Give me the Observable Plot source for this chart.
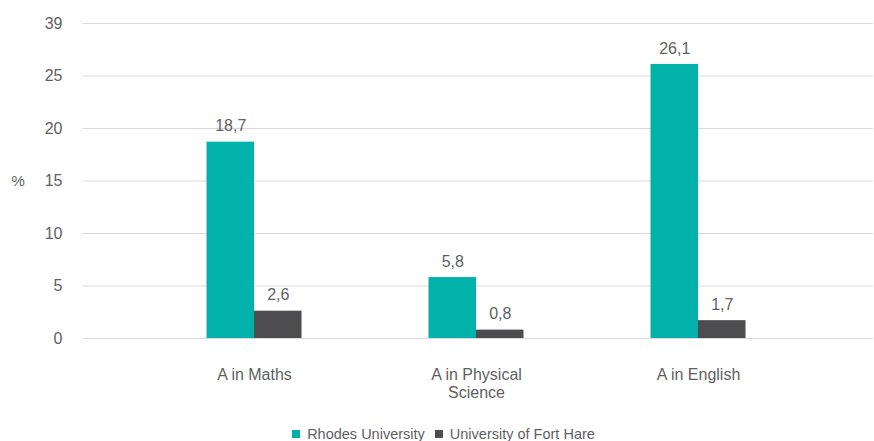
<!DOCTYPE html>
<html>
<head>
<meta charset="utf-8">
<script src="https://cdn.jsdelivr.net/npm/d3@7"></script>
<script src="https://cdn.jsdelivr.net/npm/@observablehq/plot@0.6"></script>
<style>
  body { margin: 0; background: #fff; font-family: "Liberation Sans", Arial, sans-serif; }
  #chart { width: 874px; }
  .legend { display: flex; justify-content: center; gap: 10px; font-size: 14.5px; color: #5f5f5f; line-height: 18px; margin-top: 0; padding-left: 13px; }
  .legend span.item { display: inline-flex; align-items: center; }
  .legend .sw { width: 8px; height: 8px; margin-right: 7px; display: inline-block; }
</style>
</head>
<body>
<div id="chart"></div>
<script>
// Share of learners with an A, by subject
const categories = ["A in Maths", "A in Physical Science", "A in English"];
const categoryLabels = ["A in Maths", "A in Physical\nScience", "A in English"];
const seriesNames = ["Rhodes University", "University of Fort Hare"];
const rhodes = [18.7, 5.8, 26.1];
const fortHare = [2.6, 0.8, 1.7];
const seriesColors = ["#00b2a9", "#4d4d4f"];
const yTickValues = [0, 5, 10, 15, 20, 25, 30];
const yTickLabels = ["0", "5", "10", "15", "20", "25", "39"];

const rows = [];
categories.forEach((c, i) => {
  rows.push({category: c, series: seriesNames[0], value: rhodes[i]});
  rows.push({category: c, series: seriesNames[1], value: fortHare[i]});
});

const comma = d3.formatLocale({decimal: ",", thousands: " ", grouping: [3], currency: ["", ""]}).format(".1f");
const textColor = "#5f5f5f";
const barW = 47.5;
const half = 111;

const plot = Plot.plot({
  width: 874,
  height: 425,
  marginTop: 23,
  marginBottom: 87,
  marginLeft: 83,
  marginRight: 1,
  style: {fontFamily: "'Liberation Sans', Arial, sans-serif", fontSize: "16px", color: textColor, background: "#fff"},
  x: {domain: categories, range: [143, 809], paddingInner: 0, paddingOuter: 0},
  y: {domain: [0, 30]},
  color: {domain: seriesNames, range: seriesColors},
  marks: [
    Plot.gridY(yTickValues, {stroke: "#d9d9d9", strokeOpacity: 1, strokeWidth: 1}),
    Plot.axisY(yTickValues, {
      tickSize: 0, tickPadding: 21, label: null,
      tickFormat: (d) => yTickLabels[yTickValues.indexOf(d)],
      fill: textColor, fontSize: 16
    }),
    Plot.axisX({
      tickSize: 0, tickPadding: 29, label: null, lineHeight: 1.125,
      tickFormat: (d) => categoryLabels[categories.indexOf(d)],
      fill: textColor, fontSize: 16
    }),
    Plot.text(["%"], {frameAnchor: "left", textAnchor: "start", dx: -72, fill: textColor, fontSize: 15}),
    Plot.barY(rows.filter(d => d.series === seriesNames[0]), {
      x: "category", y: "value", fill: "series",
      insetLeft: half - barW, insetRight: half
    }),
    Plot.barY(rows.filter(d => d.series === seriesNames[1]), {
      x: "category", y: "value", fill: "series",
      insetLeft: half, insetRight: half - barW
    }),
    Plot.text(rows.filter(d => d.series === seriesNames[0]), {
      x: "category", y: "value", text: d => comma(d.value),
      dx: -barW / 2, dy: -16, fill: textColor, fontSize: 16
    }),
    Plot.text(rows.filter(d => d.series === seriesNames[1]), {
      x: "category", y: "value", text: d => comma(d.value),
      dx: barW / 2, dy: -16, fill: textColor, fontSize: 16
    })
  ]
});

const chart = document.getElementById("chart");
chart.appendChild(plot);

const legend = document.createElement("div");
legend.className = "legend";
seriesNames.forEach((name, i) => {
  const item = document.createElement("span");
  item.className = "item";
  const sw = document.createElement("span");
  sw.className = "sw";
  sw.style.background = seriesColors[i];
  item.appendChild(sw);
  item.appendChild(document.createTextNode(name));
  legend.appendChild(item);
});
chart.appendChild(legend);
</script>
</body>
</html>
